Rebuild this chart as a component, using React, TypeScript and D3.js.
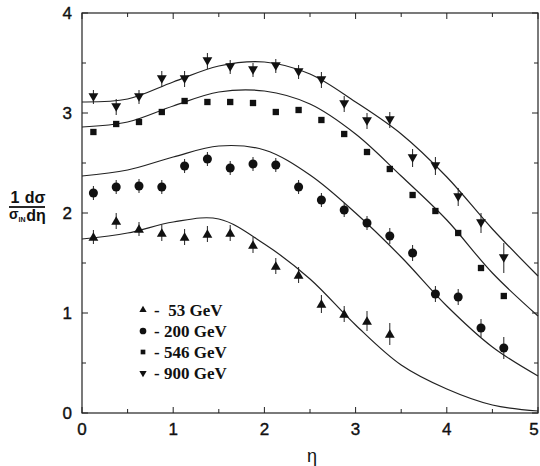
import React, { useEffect, useRef } from "react";
import * as d3 from "d3";

// measured points, eta bins of 0.25
const etaPoints = [0.125, 0.375, 0.625, 0.875, 1.125, 1.375, 1.625, 1.875, 2.125, 2.375,
  2.625, 2.875, 3.125, 3.375, 3.625, 3.875, 4.125, 4.375, 4.625];

const vals53 = [1.76, 1.92, 1.84, 1.80, 1.76, 1.79, 1.80, 1.68, 1.47, 1.38, 1.09, 0.99, 0.92, 0.79];
const err53 = [0.07, 0.08, 0.07, 0.08, 0.08, 0.08, 0.08, 0.08, 0.08, 0.08, 0.09, 0.08, 0.1, 0.11];
const vals200 = [2.20, 2.26, 2.27, 2.26, 2.47, 2.54, 2.45, 2.49, 2.48, 2.26, 2.13, 2.03, 1.90, 1.77,
  1.60, 1.19, 1.16, 0.85, 0.65];
const err200 = [0.07, 0.07, 0.07, 0.07, 0.07, 0.07, 0.07, 0.07, 0.07, 0.07, 0.07, 0.07, 0.07, 0.08,
  0.08, 0.08, 0.08, 0.09, 0.11];
const vals546 = [2.81, 2.89, 2.91, 3.01, 3.12, 3.11, 3.11, 3.10, 3.01, 3.03, 2.93, 2.79, 2.61, 2.44,
  2.18, 2.02, 1.80, 1.45, 1.17];
const err546 = [0.02, 0.02, 0.02, 0.02, 0.02, 0.02, 0.02, 0.02, 0.02, 0.02, 0.02, 0.02, 0.02, 0.02,
  0.02, 0.02, 0.02, 0.02, 0.02];
const vals900 = [3.16, 3.06, 3.16, 3.34, 3.34, 3.52, 3.46, 3.43, 3.47, 3.41, 3.33, 3.09, 2.92, 2.93,
  2.55, 2.47, 2.16, 1.90, 1.55];
const err900 = [0.07, 0.08, 0.07, 0.08, 0.08, 0.08, 0.07, 0.07, 0.07, 0.07, 0.08, 0.08, 0.08, 0.08,
  0.09, 0.09, 0.09, 0.1, 0.15];

// model curves
const curveEta = [0, 0.5, 1, 1.5, 2, 2.5, 3, 3.5, 4, 4.5, 5];
const curve53 = [1.74, 1.80, 1.91, 1.94, 1.69, 1.34, 0.88, 0.48, 0.24, 0.08, 0.02];
const curve200 = [2.37, 2.43, 2.56, 2.67, 2.63, 2.38, 2.00, 1.56, 1.07, 0.66, 0.37];
const curve546 = [2.86, 2.91, 3.07, 3.21, 3.22, 3.09, 2.79, 2.37, 1.93, 1.40, 0.97];
const curve900 = [3.11, 3.14, 3.31, 3.47, 3.51, 3.39, 3.11, 2.79, 2.36, 1.84, 1.37];

const legendLabels = ["-  53 GeV", "- 200 GeV", "- 546 GeV", "- 900 GeV"];
const xTicks = [0, 1, 2, 3, 4, 5];
const yTicks = [0, 1, 2, 3, 4];

export default function App() {
  const svgRef = useRef<SVGSVGElement>(null);

  useEffect(() => {
    const svg = d3.select(svgRef.current);
    svg.selectAll("*").remove();

    const margin = { left: 82, right: 2, top: 13, bottom: 53 };
    const W = 540, H = 466;
    const x = d3.scaleLinear().domain([0, 5]).range([margin.left, W - margin.right]);
    const y = d3.scaleLinear().domain([0, 4]).range([H - margin.bottom, margin.top]);

    const sans = "'Liberation Sans', Arial, sans-serif";
    const serif = "'Liberation Serif', 'Times New Roman', serif";

    // frame
    svg.append("rect")
      .attr("x", x(0)).attr("y", y(4))
      .attr("width", x(5) - x(0)).attr("height", y(0) - y(4))
      .attr("fill", "none").attr("stroke", "#222").attr("stroke-width", 1.2);

    // ticks on all four sides, pointing inward
    const ticks = svg.append("g").attr("stroke", "#222").attr("stroke-width", 1);
    d3.range(0, 5.01, 0.5).forEach((t) => {
      const len = Number.isInteger(t) ? 6 : 4;
      ticks.append("line").attr("x1", x(t)).attr("x2", x(t)).attr("y1", y(0)).attr("y2", y(0) - len);
      ticks.append("line").attr("x1", x(t)).attr("x2", x(t)).attr("y1", y(4)).attr("y2", y(4) + len);
    });
    d3.range(0, 4.01, 0.5).forEach((t) => {
      const len = Number.isInteger(t) ? 6 : 4;
      ticks.append("line").attr("x1", x(0)).attr("x2", x(0) + len).attr("y1", y(t)).attr("y2", y(t));
      ticks.append("line").attr("x1", x(5)).attr("x2", x(5) - len).attr("y1", y(t)).attr("y2", y(t));
    });

    // tick labels (last x label sits on the edge like the scan)
    svg.selectAll(".xlab").data(xTicks).enter().append("text")
      .attr("class", "xlab")
      .attr("x", (d) => Math.min(x(d), W - 6)).attr("y", y(0) + 22)
      .attr("text-anchor", "middle")
      .attr("font-family", sans).attr("font-size", 17).attr("fill", "#111")
      .attr("stroke", "#111").attr("stroke-width", 0.4)
      .text((d) => d);
    svg.selectAll(".ylab").data(yTicks).enter().append("text")
      .attr("class", "ylab")
      .attr("x", x(0) - 10).attr("y", (d) => y(d) + 6)
      .attr("text-anchor", "end")
      .attr("font-family", sans).attr("font-size", 17).attr("fill", "#111")
      .attr("stroke", "#111").attr("stroke-width", 0.4)
      .text((d) => d);

    // x title
    svg.append("text")
      .attr("x", 312).attr("y", 462)
      .attr("text-anchor", "middle")
      .attr("font-family", sans).attr("font-size", 18).attr("fill", "#111")
      .text("η");

    // y title: 1/sigma_IN  d sigma / d eta
    const yt = svg.append("g").attr("font-family", sans).attr("font-weight", "bold").attr("fill", "#111");
    yt.append("text").attr("x", 15).attr("y", 203).attr("text-anchor", "middle").attr("font-size", 16).text("1");
    yt.append("line").attr("x1", 9).attr("x2", 26).attr("y1", 207).attr("y2", 207).attr("stroke", "#111").attr("stroke-width", 1.8);
    const sig = yt.append("text").attr("x", 9).attr("y", 219).attr("font-size", 14);
    sig.append("tspan").text("σ");
    sig.append("tspan").attr("font-size", 7).attr("dy", 3).text("IN");
    yt.append("text").attr("x", 35).attr("y", 203).attr("text-anchor", "middle").attr("font-size", 16).text("dσ");
    yt.append("line").attr("x1", 26).attr("x2", 45).attr("y1", 207).attr("y2", 207).attr("stroke", "#111").attr("stroke-width", 1.8);
    yt.append("text").attr("x", 36).attr("y", 221).attr("text-anchor", "middle").attr("font-size", 16).text("dη");

    // model curves
    const line = d3.line<number>()
      .x((d, i) => x(curveEta[i]))
      .y((d) => y(d))
      .curve(d3.curveCatmullRom.alpha(0.5));
    [curve53, curve200, curve546, curve900].forEach((c) => {
      svg.append("path").attr("d", line(c)!)
        .attr("fill", "none").attr("stroke", "#222").attr("stroke-width", 1.2);
    });

    // data points with error bars
    const series = [
      { vals: vals53, errs: err53, sym: d3.symbolTriangle, size: 42, rot: 0 },
      { vals: vals200, errs: err200, sym: d3.symbolCircle, size: 64, rot: 0 },
      { vals: vals546, errs: err546, sym: d3.symbolSquare, size: 40, rot: 0 },
      { vals: vals900, errs: err900, sym: d3.symbolTriangle, size: 42, rot: 180 },
    ];
    series.forEach((s) => {
      const g = svg.append("g");
      s.vals.forEach((v: number, i: number) => {
        const px = x(etaPoints[i]);
        g.append("line")
          .attr("x1", px).attr("x2", px)
          .attr("y1", y(v - s.errs[i])).attr("y2", y(v + s.errs[i]))
          .attr("stroke", "#222").attr("stroke-width", 1);
        const dy = s.sym === d3.symbolTriangle ? (s.rot ? -1 : 1) : 0;
        g.append("path")
          .attr("d", d3.symbol().type(s.sym).size(s.size)()!)
          .attr("transform", `translate(${px},${y(v) + dy}) rotate(${s.rot})`)
          .attr("fill", "#111");
      });
    });

    // legend
    const leg = svg.append("g");
    legendLabels.forEach((lab, i) => {
      const ly = 310 + i * 21;
      const s = series[i];
      leg.append("path")
        .attr("d", d3.symbol().type(s.sym).size(s.size * 0.55)()!)
        .attr("transform", `translate(143,${ly}) rotate(${s.rot})`)
        .attr("fill", "#111");
      leg.append("text")
        .attr("x", 154).attr("y", ly + 6)
        .attr("font-family", serif).attr("font-weight", "bold").attr("font-size", 17)
        .attr("fill", "#111")
        .attr("xml:space", "preserve")
        .style("white-space", "pre")
        .text(lab);
    });
  }, []);

  return (
    <svg ref={svgRef} width={540} height={466}
      style={{ position: "absolute", left: 0, top: 0, background: "#fff" }} />
  );
}
